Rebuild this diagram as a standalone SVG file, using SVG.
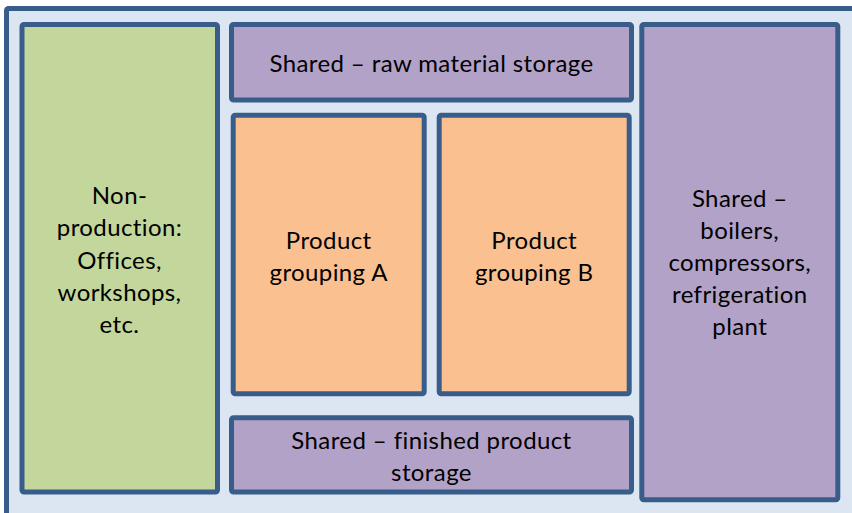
<svg xmlns="http://www.w3.org/2000/svg" width="852" height="513" viewBox="0 0 852 513">
<style>
.box{stroke:#385D8A;stroke-width:5;}
.t{font-family:Lato,"Liberation Sans",sans-serif;font-size:24px;letter-spacing:0.4px;fill:#000;text-anchor:middle;}
</style>
<rect width="852" height="513" fill="#FFFFFF"/>
<g id="site"><rect class="box" x="6.5" y="8.5" width="860" height="520" rx="2" fill="#DCE6F2"/></g>
<g id="nonprod">
<rect class="box" x="22" y="24.5" width="195.5" height="467.5" rx="2" fill="#C3D69B"/>
<text class="t"><tspan x="119.5" y="204">Non-</tspan><tspan x="119.5" y="236">production:</tspan><tspan x="119.5" y="269">Offices,</tspan><tspan x="119.5" y="301">workshops,</tspan><tspan x="119.5" y="333">etc.</tspan></text>
</g>
<g id="raw">
<rect class="box" x="231.5" y="24.5" width="400" height="75.5" rx="2" fill="#B3A2C7"/>
<text class="t" x="431.5" y="72">Shared – raw material storage</text>
</g>
<g id="groupA">
<rect class="box" x="233.2" y="115.2" width="191" height="278.6" rx="2" fill="#FAC090"/>
<text class="t"><tspan x="328.7" y="249">Product</tspan><tspan x="328.7" y="281">grouping A</tspan></text>
</g>
<g id="groupB">
<rect class="box" x="439.2" y="115.2" width="190" height="278.6" rx="2" fill="#FAC090"/>
<text class="t"><tspan x="534.2" y="249">Product</tspan><tspan x="534.2" y="281">grouping B</tspan></text>
</g>
<g id="finished">
<rect class="box" x="231.5" y="417.7" width="400" height="74.3" rx="2" fill="#B3A2C7"/>
<text class="t"><tspan x="431.5" y="449">Shared – finished product</tspan><tspan x="431.5" y="481">storage</tspan></text>
</g>
<g id="utilities">
<rect class="box" x="641.8" y="24.5" width="196" height="475.2" rx="2" fill="#B3A2C7"/>
<text class="t"><tspan x="739.8" y="207">Shared –</tspan><tspan x="739.8" y="239">boilers,</tspan><tspan x="739.8" y="271">compressors,</tspan><tspan x="739.8" y="303">refrigeration</tspan><tspan x="739.8" y="335">plant</tspan></text>
</g>
<g id="connectors"></g>
</svg>
